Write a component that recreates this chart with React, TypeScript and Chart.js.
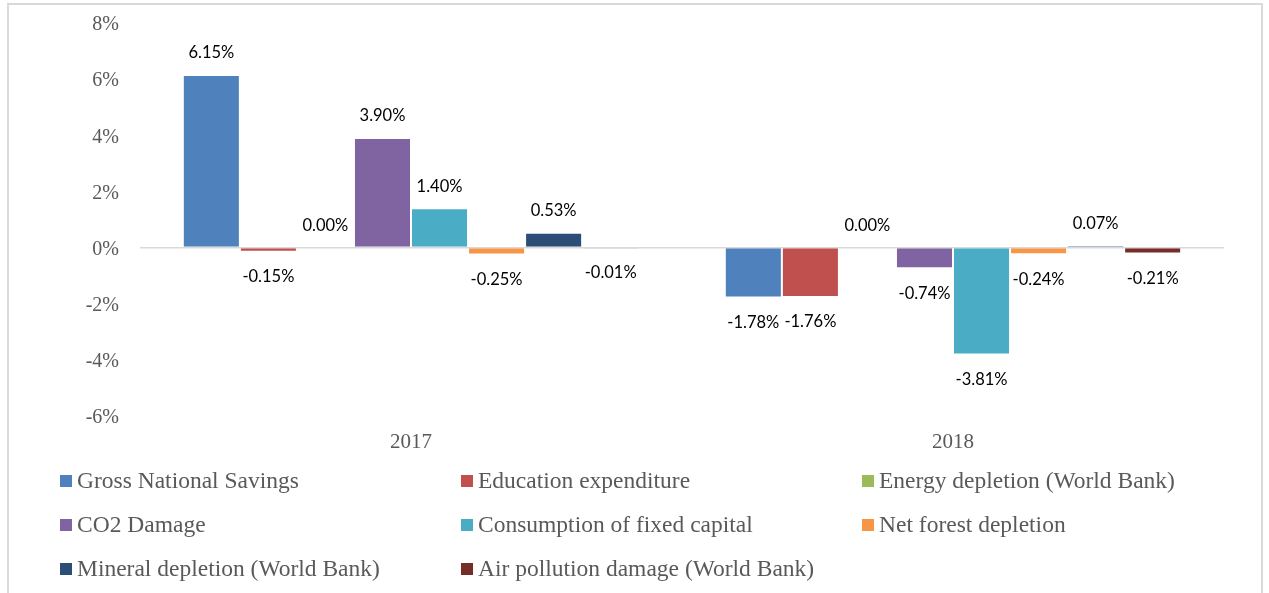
import React, { useEffect, useRef } from "react";
import { Chart, registerables } from "chart.js";

Chart.register(...registerables);

const categories = ["2017", "2018"];
const seriesNames = [
  "Gross National Savings",
  "Education expenditure",
  "Energy depletion (World Bank)",
  "CO2 Damage",
  "Consumption of fixed capital",
  "Net forest depletion",
  "Mineral depletion (World Bank)",
  "Air pollution damage (World Bank)",
];
const grossNationalSavings = [6.15, -1.78];
const educationExpenditure = [-0.15, -1.76];
const energyDepletion = [0.0, 0.0];
const co2Damage = [3.9, -0.74];
const consumptionFixedCapital = [1.4, -3.81];
const netForestDepletion = [-0.25, -0.24];
const mineralDepletion = [0.53, 0.07];
const airPollutionDamage = [-0.01, -0.21];
const seriesColors = [
  "#4F81BD",
  "#C0504D",
  "#9BBB59",
  "#8064A2",
  "#4BACC6",
  "#F79646",
  "#2C4D75",
  "#772C2A",
];
const yTicks = [-6, -4, -2, 0, 2, 4, 6, 8];

const W = 1269;
const H = 593;
const PLOT_TOP = 23;
const PLOT_BOTTOM = 416;

const areaPlugin = {
  id: "fixArea",
  afterLayout(chart: any) {
    const y = chart.scales.y;
    y.top = PLOT_TOP;
    y.bottom = PLOT_BOTTOM;
    y.height = PLOT_BOTTOM - PLOT_TOP;
    y.configure();
    const ca = chart.chartArea;
    ca.top = PLOT_TOP;
    ca.bottom = PLOT_BOTTOM;
    ca.height = PLOT_BOTTOM - PLOT_TOP;
  },
};

const labelPlugin = {
  id: "valueLabels",
  afterDatasetsDraw(chart: any) {
    const ctx = chart.ctx;
    ctx.save();
    ctx.font = "16.5px Lato, 'Open Sans', sans-serif";
    ctx.fillStyle = "#000000";
    ctx.textAlign = "center";
    ctx.textBaseline = "middle";
    chart.data.datasets.forEach((ds: any, i: number) => {
      const meta = chart.getDatasetMeta(i);
      meta.data.forEach((el: any, j: number) => {
        const v = ds.data[j];
        const txt = v.toFixed(2) + "%";
        const y = v >= 0 ? el.y - 22 : el.y + 25;
        ctx.fillText(txt, el.x, y);
      });
    });
    ctx.restore();
  },
};

const legendPlugin = {
  id: "gridLegend",
  afterDraw(chart: any) {
    const ctx = chart.ctx;
    ctx.save();
    const colX = [60, 461, 862];
    const rowY = [481, 525, 569];
    ctx.font = "23.5px 'Liberation Serif', serif";
    ctx.textBaseline = "middle";
    ctx.textAlign = "left";
    chart.data.datasets.forEach((ds: any, i: number) => {
      const x = colX[i % 3];
      const y = rowY[Math.floor(i / 3)];
      ctx.fillStyle = ds.backgroundColor;
      ctx.fillRect(x, y - 6, 12, 12);
      ctx.fillStyle = "#595959";
      ctx.fillText(ds.label, x + 17, y + 1);
    });
    // outer frame
    ctx.strokeStyle = "#d9d9d9";
    ctx.lineWidth = 2;
    ctx.beginPath();
    ctx.moveTo(8, H + 5);
    ctx.lineTo(8, 4);
    ctx.lineTo(1262, 4);
    ctx.lineTo(1262, H + 5);
    ctx.stroke();
    ctx.restore();
  },
};

export default function App() {
  const ref = useRef<HTMLCanvasElement | null>(null);
  useEffect(() => {
    if (!ref.current) return;
    const values = [
      grossNationalSavings,
      educationExpenditure,
      energyDepletion,
      co2Damage,
      consumptionFixedCapital,
      netForestDepletion,
      mineralDepletion,
      airPollutionDamage,
    ];
    const chart = new Chart(ref.current, {
      type: "bar",
      data: {
        labels: categories,
        datasets: values.map((d, i) => ({
          label: seriesNames[i],
          data: d,
          backgroundColor: seriesColors[i],
          borderColor: "rgba(255,255,255,0.6)",
          borderWidth: 1,
          barPercentage: 1,
          categoryPercentage: 0.842,
        })),
      },
      options: {
        animation: false,
        responsive: false,
        devicePixelRatio: 1,
        layout: { padding: { left: 0, right: W - 1224, top: 17, bottom: 0 } },
        plugins: {
          legend: { display: false },
          tooltip: { enabled: false },
          title: { display: false },
        },
        scales: {
          x: {
            grid: { display: false, drawTicks: false },
            border: { display: false },
            ticks: {
              color: "#595959",
              font: { family: "'Liberation Serif', serif", size: 21 },
              padding: 14,
            },
            afterFit(scale: any) {
              scale.height = H - PLOT_BOTTOM;
            },
          },
          y: {
            min: -6,
            max: 8,
            afterBuildTicks(scale: any) {
              scale.ticks = yTicks.map((v) => ({ value: v }));
            },
            grid: {
              drawTicks: false,
              lineWidth: 1.5,
              color: (c: any) => (c.tick && c.tick.value === 0 ? "#d9d9d9" : "rgba(0,0,0,0)"),
            },
            border: { display: false },
            ticks: {
              color: "#595959",
              font: { family: "'Liberation Serif', serif", size: 20 },
              padding: 21,
              labelOffset: 2,
              callback: (v: any) => v + "%",
            },
            afterFit(scale: any) {
              scale.width = 140;
            },
          },
        },
      },
      plugins: [areaPlugin, labelPlugin, legendPlugin],
    } as any);
    return () => chart.destroy();
  }, []);
  return (
    <div
      style={{
        position: "fixed",
        left: 0,
        top: 0,
        width: W,
        height: H,
        background: "#ffffff",
      }}
    >
      <canvas ref={ref} width={W} height={H} style={{ width: W, height: H, display: "block" }} />
    </div>
  );
}
